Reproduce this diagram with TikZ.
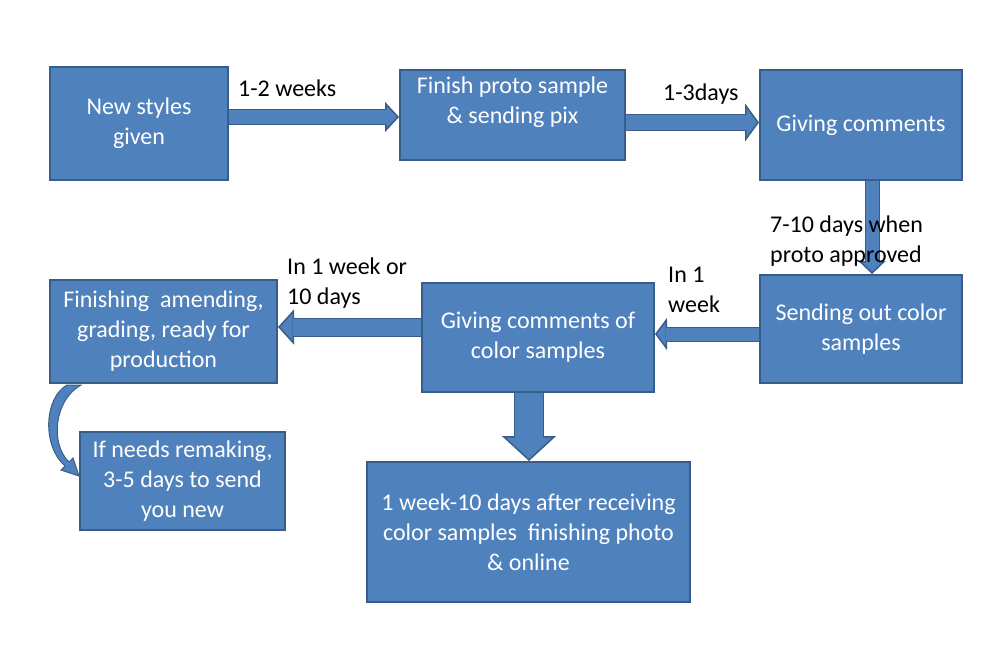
\documentclass[tikz,border=0pt]{standalone}
\usepackage{fontspec}
\setmainfont{Carlito}
\usepackage{xcolor}
\usetikzlibrary{arrows.meta,calc}
\definecolor{boxfill}{HTML}{4F81BD}
\definecolor{boxline}{HTML}{385D8A}
\tikzset{
  box/.style={draw=boxline, line width=2pt, fill=boxfill, text=white, align=center, inner sep=0pt, font=\fontsize{24}{30}\selectfont},
  lbl/.style={anchor=base west, align=left, inner sep=0pt, font=\fontsize{24}{30}\selectfont},
  flow/.style n args={3}{draw=boxline, line width=#1+2pt, -{Triangle[length=#3, width=#2, line width=1.5pt, fill=boxfill]}, postaction={draw=boxfill, line width=#1, -, shorten >=#3-1.5pt}}
}
\begin{document}
\begin{tikzpicture}[x=1pt,y=-1pt]
  \useasboundingbox (0,0) rectangle (1000,650);
  \node[box, minimum width=178, minimum height=113] (new) at (139,123.5) {New styles\\given};
  \node[box, minimum width=225, minimum height=90, label={[text=white, align=center, font=\fontsize{24}{30}\selectfont, yshift=13pt]center:Finish proto sample\\\& sending pix}] (proto) at (512.5,115) {};
  \node[box, minimum width=202, minimum height=110] (comments) at (861,125) {Giving comments};
  \node[box, minimum width=202, minimum height=108] (sendout) at (861,329) {Sending out color\\samples};
  \node[box, minimum width=232, minimum height=109] (colorcom) at (538,337.5) {Giving comments of\\color samples};
  \node[box, minimum width=227, minimum height=103] (finish) at (163.5,331.5) {Finishing\ \ amending,\\grading, ready for\\production};
  \node[box, minimum width=205, minimum height=98] (remake) at (182.5,481) {If needs remaking,\\3-5 days to send\\you new};
  \node[box, minimum width=323, minimum height=140] (photo) at (528.5,532) {1 week-10 days after receiving\\color samples\ \ finishing photo\\\& online};

  \draw[flow={13pt}{30pt}{14pt}] ([yshift=6.5pt]new.east) -- ([yshift=-2pt]proto.west);
  \draw[flow={15pt}{38pt}{14pt}] ([yshift=-7.5pt]proto.east) -- ([yshift=2.5pt]comments.west);
  \draw[flow={13pt}{27pt}{13pt}] ([xshift=11pt]comments.south) -- ([xshift=11pt]sendout.north);
  \draw[flow={13pt}{32pt}{12pt}] ([yshift=-5pt]sendout.west) -- ([yshift=3.5pt]colorcom.east);
  \draw[flow={17pt}{35pt}{16pt}] ([yshift=10.5pt]colorcom.west) -- ([yshift=4.5pt]finish.east);
  \draw[flow={28pt}{54pt}{25pt}] ([xshift=-9pt]colorcom.south) -- ([xshift=0.5pt]photo.north);

  \coordinate (outtop) at ($(finish.south west)+(18,1)$);
  \coordinate (intop) at ($(finish.south west)+(32,1)$);
  \coordinate (tip) at ($(remake.west)+(0,-5)$);
  \draw[draw=boxline, fill=boxfill, line width=1pt] (outtop) .. controls (44,398) and (42,446) .. ($(tip)+(-14,-10)$)
    -- ($(tip)+(-18,-6)$) -- (tip) -- ($(tip)+(-6,-18)$) -- ($(tip)+(-10,-14)$)
    .. controls (50,444) and (54,400) .. (intop) -- cycle;

  \node[lbl] (l1) at (238,96) {1-2 weeks};
  \node[lbl] (l2) at (663,100) {1-3days};
  \node[lbl] (l3) at (770,262) {7-10 days when\\proto approved};
  \node[lbl] (l4) at (668,312) {In 1\\week};
  \node[lbl] (l5) at (287,304) {In 1 week or\\10 days};
\end{tikzpicture}
\end{document}
